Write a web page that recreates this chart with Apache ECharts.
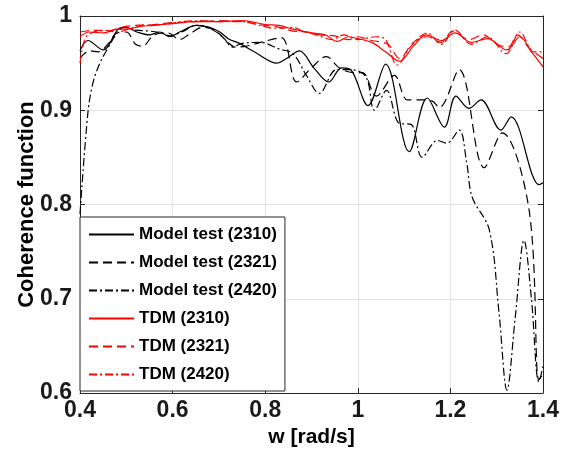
<!DOCTYPE html>
<html><head><meta charset="utf-8">
<script src="https://cdn.jsdelivr.net/npm/echarts@6/dist/echarts.min.js"></script>
<style>html,body{margin:0;padding:0;background:#fff}#c{width:562px;height:461px}</style>
</head><body><div id="c"></div>
<script>
// ---- data ----
const seriesNames = ['Model test (2310)','Model test (2321)','Model test (2420)','TDM (2310)','TDM (2321)','TDM (2420)'];
const xTickLabels = ['0.4','0.6','0.8','1','1.2','1.4'];
const yTickLabels = ['0.6','0.7','0.8','0.9','1'];

const mt2310X = [0.40,0.417,0.45,0.485,0.50,0.523,0.551,0.572,0.594,0.615,0.652,0.68,0.702,0.723,0.74,0.78,0.825,0.846,0.874,0.905,0.937,0.965,0.985,1.022,1.06,1.111,1.15,1.187,1.212,1.24,1.266,1.309,1.331,1.392,1.40];
const mt2310Y = [0.963,0.974,0.964,0.987,0.988,0.983,0.980,0.983,0.978,0.983,0.990,0.988,0.983,0.975,0.972,0.961,0.950,0.955,0.963,0.945,0.930,0.945,0.943,0.905,0.949,0.856,0.913,0.882,0.915,0.902,0.911,0.879,0.893,0.821,0.823];

const mt2321X = [0.40,0.42,0.44,0.46,0.48,0.50,0.52,0.535,0.56,0.59,0.615,0.64,0.665,0.69,0.72,0.735,0.76,0.79,0.835,0.868,0.90,0.932,0.96,0.99,1.01,1.04,1.079,1.107,1.135,1.16,1.176,1.219,1.273,1.312,1.37,1.391,1.40];
const mt2321Y = [0.955,0.963,0.962,0.970,0.982,0.983,0.970,0.968,0.980,0.982,0.975,0.982,0.988,0.985,0.972,0.967,0.968,0.972,0.977,0.930,0.945,0.957,0.945,0.940,0.940,0.915,0.937,0.911,0.911,0.910,0.903,0.943,0.839,0.876,0.794,0.614,0.620];

const mt2420X = [0.40,0.417,0.428,0.443,0.458,0.48,0.495,0.52,0.55,0.575,0.595,0.62,0.652,0.68,0.708,0.73,0.75,0.79,0.83,0.86,0.889,0.917,0.954,0.988,1.018,1.036,1.062,1.09,1.115,1.139,1.172,1.192,1.219,1.235,1.247,1.284,1.305,1.322,1.34,1.359,1.375,1.391,1.40];
const mt2420Y = [0.790,0.897,0.929,0.950,0.964,0.982,0.988,0.985,0.984,0.982,0.979,0.983,0.990,0.987,0.978,0.967,0.971,0.972,0.965,0.960,0.937,0.918,0.943,0.943,0.935,0.900,0.921,0.886,0.885,0.850,0.868,0.865,0.879,0.845,0.808,0.773,0.685,0.603,0.680,0.762,0.700,0.612,0.628];

const tdm2310X = [0.40,0.42,0.45,0.48,0.50,0.53,0.56,0.60,0.65,0.70,0.75,0.80,0.83,0.86,0.90,0.93,0.955,0.98,1.00,1.03,1.06,1.09,1.12,1.148,1.18,1.21,1.245,1.28,1.322,1.35,1.375,1.40];
const tdm2310Y = [0.978,0.983,0.982,0.986,0.986,0.989,0.990,0.992,0.994,0.994,0.995,0.991,0.990,0.986,0.982,0.980,0.973,0.978,0.976,0.972,0.962,0.952,0.968,0.980,0.974,0.982,0.972,0.976,0.964,0.978,0.962,0.946];

const tdm2321X = [0.40,0.43,0.46,0.49,0.52,0.56,0.60,0.65,0.70,0.75,0.80,0.83,0.86,0.89,0.92,0.95,0.98,1.00,1.03,1.065,1.09,1.12,1.15,1.18,1.205,1.24,1.27,1.30,1.325,1.345,1.37,1.40];
const tdm2321Y = [0.983,0.985,0.984,0.988,0.990,0.991,0.993,0.994,0.995,0.994,0.990,0.988,0.984,0.983,0.980,0.979,0.975,0.978,0.974,0.970,0.955,0.972,0.978,0.972,0.984,0.975,0.980,0.970,0.967,0.980,0.966,0.955];

const tdm2420X = [0.40,0.41,0.42,0.45,0.48,0.51,0.54,0.58,0.62,0.66,0.70,0.75,0.78,0.82,0.86,0.88,0.91,0.945,0.97,1.00,1.04,1.06,1.085,1.115,1.15,1.18,1.21,1.245,1.28,1.32,1.35,1.38,1.40];
const tdm2420Y = [0.950,0.975,0.981,0.985,0.983,0.987,0.990,0.991,0.994,0.995,0.994,0.994,0.991,0.987,0.988,0.984,0.980,0.975,0.980,0.975,0.978,0.975,0.948,0.968,0.982,0.970,0.985,0.970,0.978,0.960,0.983,0.962,0.962];

// ---- chart ----
const axisColor = '#262626';
const FONT = 'Liberation Sans, Arial, Helvetica, sans-serif';
function pairs(xs, ys){ return xs.map((x,i)=>[x, ys[i]]); }
function fmt(list){ return v => { const s = (+v.toFixed(2)).toString(); return list.includes(s) ? s : ''; }; }

const dashed = [9, 5];
const dashDot = [8, 3, 2, 3];
const styles = [
  {color:'#000000', type:'solid'},
  {color:'#000000', type:dashed},
  {color:'#000000', type:dashDot},
  {color:'#ff0000', type:'solid'},
  {color:'#ff0000', type:dashed},
  {color:'#ff0000', type:dashDot}
];
const dataSets = [
  pairs(mt2310X, mt2310Y), pairs(mt2321X, mt2321Y), pairs(mt2420X, mt2420Y),
  pairs(tdm2310X, tdm2310Y), pairs(tdm2321X, tdm2321Y), pairs(tdm2420X, tdm2420Y)
];

const baseAxis = {
  axisLine: {show:true, onZero:false, lineStyle:{color:axisColor, width:1}},
  axisTick: {show:true, inside:true, length:5, lineStyle:{color:axisColor}},
};

const chart = echarts.init(document.getElementById('c'), null, {renderer:'canvas'});
chart.setOption({
  animation: false,
  backgroundColor: '#ffffff',
  grid: {left:80, right:18, top:16, bottom:68, containLabel:false},
  xAxis: [
    Object.assign({}, baseAxis, {
      type:'value', min:0.4, max:1.4, interval:0.2, position:'bottom',
      name:'w [rad/s]', nameLocation:'middle', nameGap:32,
      nameTextStyle:{fontFamily:FONT, fontSize:21, fontWeight:'bold', color:'#000'},
      axisLabel:{fontFamily:FONT, fontSize:23, fontWeight:'bold', color:'#1a1a1a', margin:6, formatter:fmt(xTickLabels)},
      splitLine:{show:true, lineStyle:{color:'#e3e3e3', width:1}}
    }),
    Object.assign({}, baseAxis, {
      type:'value', min:0.4, max:1.4, interval:0.2, position:'top',
      axisLabel:{show:false}, splitLine:{show:false}
    })
  ],
  yAxis: [
    Object.assign({}, baseAxis, {
      type:'value', min:0.6, max:1.0, interval:0.1, position:'left',
      name:'Coherence function', nameLocation:'middle', nameGap:42, nameMoveOverlap:false,
      nameTextStyle:{fontFamily:FONT, fontSize:22, fontWeight:'bold', color:'#000'},
      axisLabel:{fontFamily:FONT, fontSize:23, fontWeight:'bold', color:'#1a1a1a', margin:8, formatter:fmt(yTickLabels)},
      splitLine:{show:true, lineStyle:{color:'#e3e3e3', width:1}}
    }),
    Object.assign({}, baseAxis, {
      type:'value', min:0.6, max:1.0, interval:0.1, position:'right',
      axisLabel:{show:false}, splitLine:{show:false}
    })
  ],
  legend: {
    show:true, orient:'vertical', left:80, top:217,
    data: seriesNames,
    backgroundColor:'#ffffff', borderColor:axisColor, borderWidth:1, borderRadius:0,
    padding:[9, 8, 8, 8], itemGap:11, itemWidth:45, itemHeight:14,
    itemStyle:{opacity:0},
    textStyle:{fontFamily:FONT, fontSize:17, fontWeight:'bold', color:'#000', lineHeight:17},
    selectedMode:false
  },
  series: seriesNames.map((n, i) => ({
    name:n, type:'line', xAxisIndex:0, yAxisIndex:0,
    data:dataSets[i], smooth:0.35, symbol:'none', showSymbol:false,
    lineStyle:{color:styles[i].color, type:styles[i].type, width:1.2},
    itemStyle:{color:styles[i].color},
    emphasis:{disabled:true}, z: i < 3 ? 2 : 3
  }))
});
</script></body></html>
